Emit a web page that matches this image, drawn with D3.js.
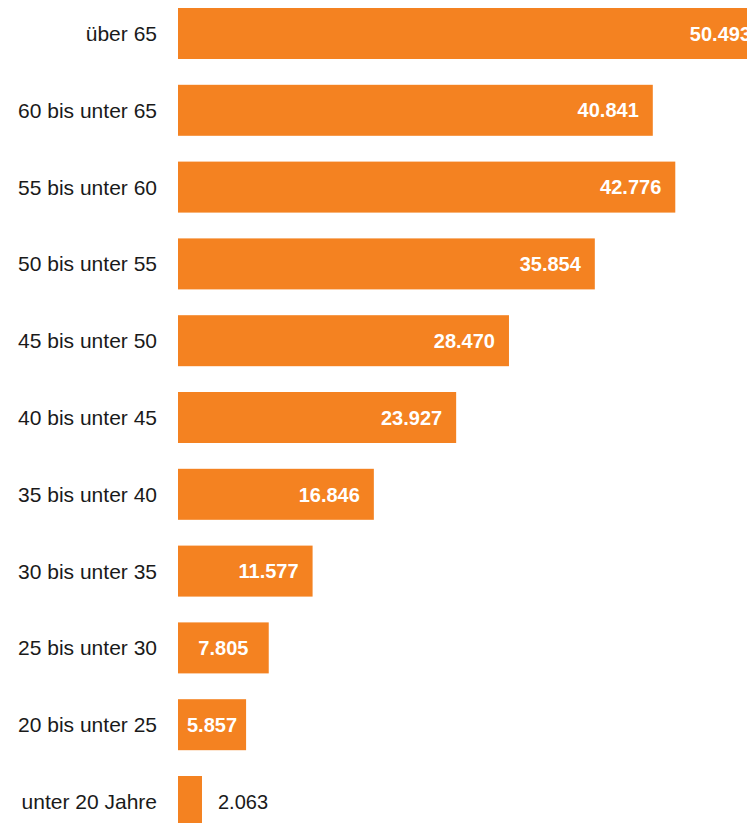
<!DOCTYPE html>
<html>
<head>
<meta charset="utf-8">
<script src="https://cdn.jsdelivr.net/npm/d3@7"></script>
<style>
  body { margin: 0; background: #fff; }
  svg { display: block; }
  .cat { font-family: "Liberation Sans", Arial, sans-serif; font-size: 21px; fill: #1a1a1a; }
  .val { font-family: "Liberation Sans", Arial, sans-serif; font-size: 20px; }
</style>
</head>
<body>
<svg></svg>
<script>
var svgWidth = 747;
var svgHeight = 823;

var categories = ['über 65', '60 bis unter 65', '55 bis unter 60', '50 bis unter 55', '45 bis unter 50',
  '40 bis unter 45', '35 bis unter 40', '30 bis unter 35', '25 bis unter 30', '20 bis unter 25', 'unter 20 Jahre'];
var values = [50493, 40841, 42776, 35854, 28470, 23927, 16846, 11577, 7805, 5857, 2063];
var valueLabels = ['50.493', '40.841', '42.776', '35.854', '28.470', '23.927', '16.846', '11.577', '7.805', '5.857', '2.063'];

var data = categories.map(function(c, i) {
  return { cat: c, value: values[i], label: valueLabels[i] };
});

var barColor = '#f48221';
var plotX = 178;

var svg = d3.select('svg').attr('width', svgWidth).attr('height', svgHeight);

var yScale = d3.scaleBand()
  .domain(categories)
  .range([8, 827])
  .paddingInner(0.336)
  .paddingOuter(0);

var xScale = d3.scaleLinear()
  .domain([0, 50493])
  .range([plotX, 765]);

// category labels
svg.append('g').selectAll('.cat')
  .data(data)
  .enter()
  .append('text')
  .classed('cat', true)
  .attr('x', 157)
  .attr('y', d => yScale(d.cat) + yScale.bandwidth() / 2)
  .attr('dy', '0.36em')
  .attr('text-anchor', 'end')
  .text(d => d.cat);

// bars
svg.append('g').selectAll('rect')
  .data(data)
  .enter()
  .append('rect')
  .attr('x', xScale(0))
  .attr('y', d => yScale(d.cat))
  .attr('width', d => xScale(d.value) - xScale(0))
  .attr('height', yScale.bandwidth())
  .attr('fill', barColor);

// value labels: inside at the end, centred on short bars, outside on tiny ones
var vals = svg.append('g').selectAll('.val')
  .data(data)
  .enter()
  .append('text')
  .classed('val', true)
  .attr('y', d => yScale(d.cat) + yScale.bandwidth() / 2)
  .attr('dy', '0.36em')
  .text(d => d.label);

vals.each(function(d) {
  var t = d3.select(this);
  var w = xScale(d.value) - xScale(0);
  t.attr('font-weight', 'bold').attr('fill', '#fff');
  var tw = this.getComputedTextLength();
  if (w < tw) {
    t.attr('font-weight', 'normal').attr('fill', '#1a1a1a')
      .attr('text-anchor', 'start').attr('x', xScale(d.value) + 16);
  } else if (w < tw + 50) {
    t.attr('text-anchor', 'middle').attr('x', xScale(0) + w / 2);
  } else {
    t.attr('text-anchor', 'end').attr('x', xScale(d.value) - 14);
  }
});
</script>
</body>
</html>
